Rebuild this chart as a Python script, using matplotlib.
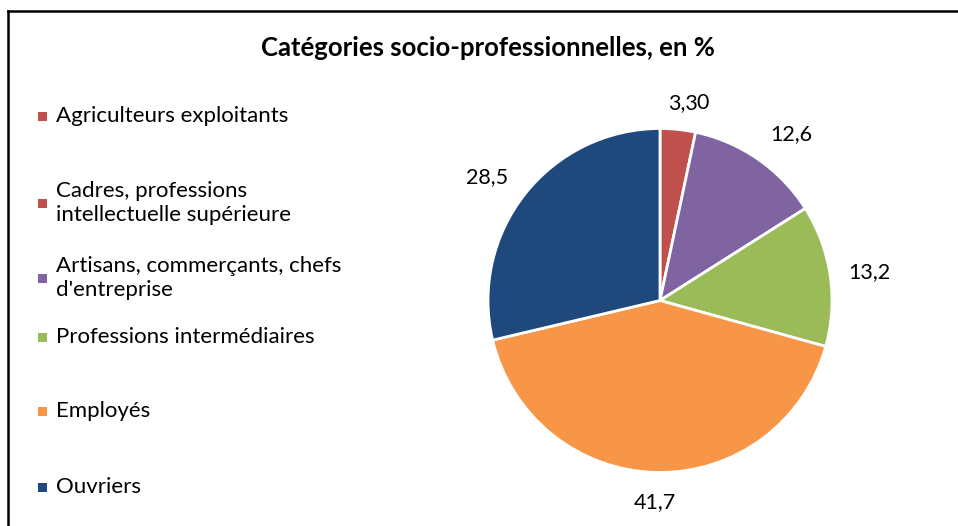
import matplotlib
matplotlib.use("Agg")
import matplotlib.pyplot as plt
from matplotlib.lines import Line2D
from matplotlib.patches import Rectangle

plt.rcParams['font.family'] = ['Lato', 'DejaVu Sans']

categories = ["Agriculteurs exploitants",
              "Cadres, professions\nintellectuelle supérieure",
              "Artisans, commerçants, chefs\nd'entreprise",
              "Professions intermédiaires",
              "Employés",
              "Ouvriers"]
values = [0, 3.3, 12.6, 13.2, 41.7, 28.5]
colors = ["#C0504D", "#C0504D", "#8064A2", "#9BBB59", "#F79646", "#1F497D"]
title = "Catégories socio-professionnelles, en %"

W, H = 958, 526
fig = plt.figure(figsize=(W / 100, H / 100), dpi=100)

# pie centred at (660, 300) px, radius 172 px
cx, cy, r = 660, 300.5, 172
ax = fig.add_axes([(cx - r) / W, (H - cy - r) / H, 2 * r / W, 2 * r / H])

value_labels = [("%.1f" % v).replace(".", ",") if v % 1 else "%d" % v for v in values]
wedges, texts = ax.pie(values, colors=colors, startangle=90, counterclock=False,
                       labels=value_labels, labeldistance=1.19,
                       wedgeprops=dict(edgecolor="white", linewidth=2),
                       textprops=dict(fontsize=15.5, color="black"))
ax.set_xlim(-1, 1)
ax.set_ylim(-1, 1)

# nudge labels a little (pixels, right / down) like Excel's best-fit placement
nudge = [(0, 0), (2, 6), (14, 2), (7, 2), (-1, -3), (-12, 4)]
for t, (dx, dy) in zip(texts, nudge):
    x, y = t.get_position()
    t.set_position((x + dx / r, y - dy / r))
    t.set_ha("center")
    t.set_va("center")

# the zero slice label sits just right of its neighbour
for i, v in enumerate(values):
    if v == 0 and i + 1 < len(values):
        texts[i].set_visible(False)
        ax.annotate(value_labels[i], xy=texts[i + 1].get_position(), xytext=(9.5, 0),
                    textcoords="offset points", ha="left", va="center",
                    fontsize=15.5, annotation_clip=False)

fig.text(488 / W, 1 - 48 / H, title, ha="center", va="center",
         fontsize=18.5, fontweight="bold")

# legend drawn by hand, Excel style spacing
legend_y = [116, 203, 278, 337, 411, 487]
for lab, col, y in zip(categories, colors, legend_y):
    fig.patches.append(Rectangle(((38) / W, 1 - (y + 4.5) / H), 9 / W, 9 / H,
                                 transform=fig.transFigure, facecolor=col,
                                 edgecolor="none"))
    fig.text(56 / W, 1 - y / H, lab, ha="left", va="center", fontsize=16,
             linespacing=1.3)

# chart area border (cropped on the right and bottom)
fig.add_artist(Line2D([8 / W, 8 / W], [0, 1 - 11 / H], color="black", lw=1.8,
                      transform=fig.transFigure))
fig.add_artist(Line2D([8 / W, 1], [1 - 11 / H, 1 - 11 / H], color="black", lw=1.8,
                      transform=fig.transFigure))

fig.savefig("out.png", dpi=100)
